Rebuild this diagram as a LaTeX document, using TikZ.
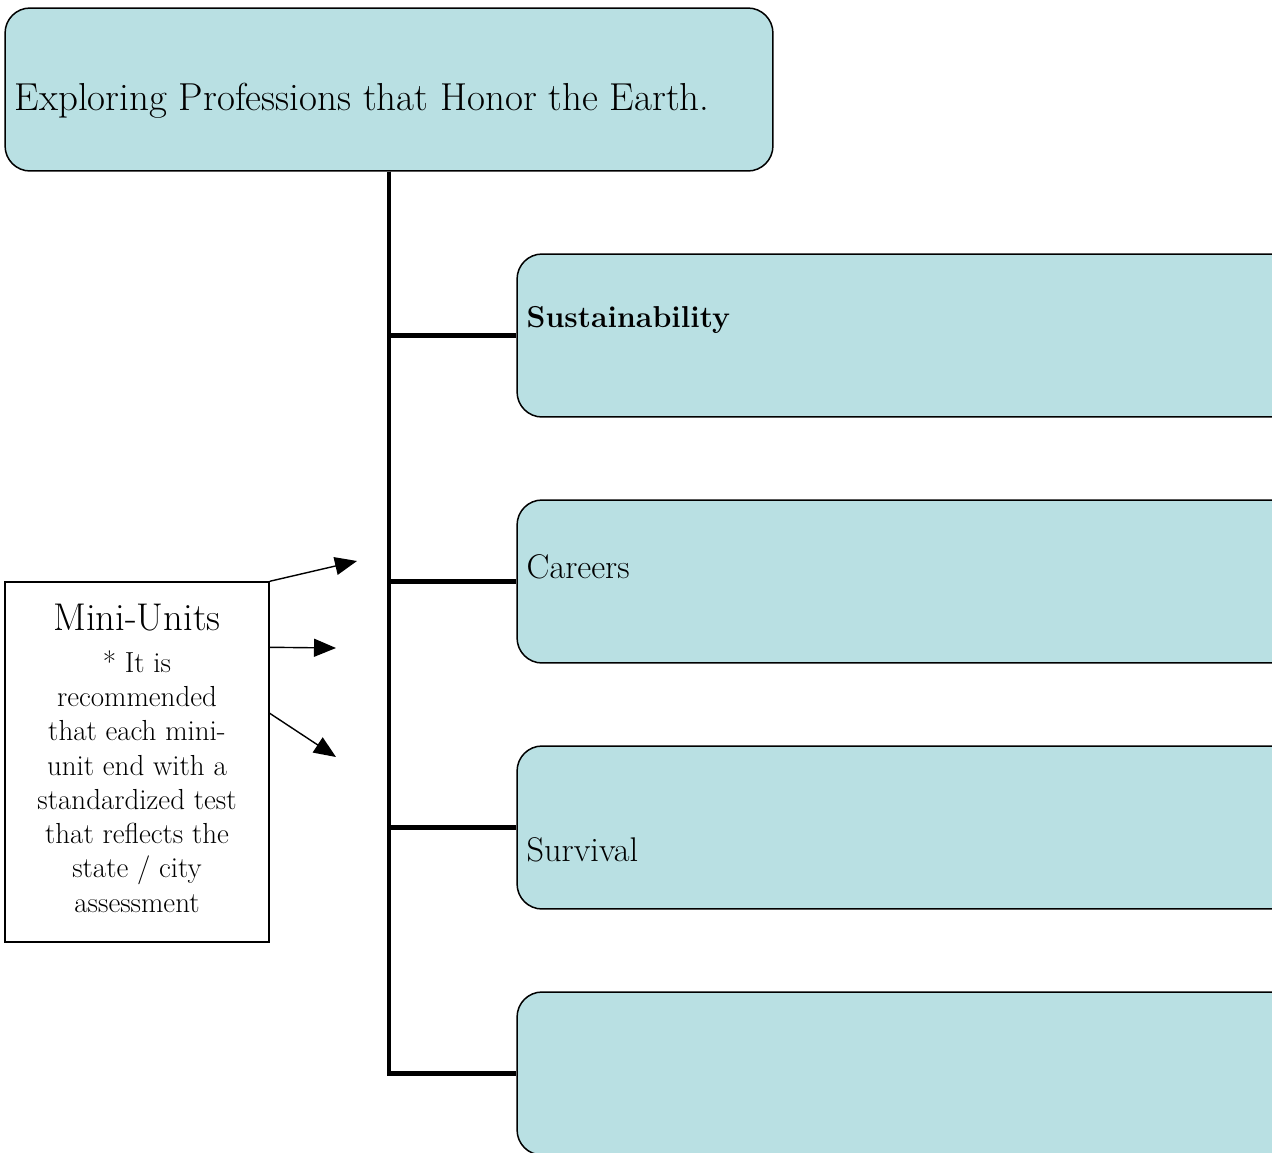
\documentclass[tikz,border=0pt]{standalone}
\usepackage{xcolor}
\usepackage{tikz}
\usetikzlibrary{positioning}
\usetikzlibrary{calc,arrows.meta}
\definecolor{boxteal}{RGB}{185,224,227}
\tikzstyle{topbox}=[rectangle,rounded corners=0.5cm,draw=black,line width=0.85pt,fill=boxteal,minimum width=15.36cm,minimum height=3.26cm,inner sep=0pt]
\tikzstyle{unitbox}=[topbox,minimum width=16cm]
\tikzstyle{notebox}=[rectangle,draw=black,line width=0.85pt,fill=white,minimum width=5.28cm,minimum height=7.2cm,inner sep=0pt]
\tikzstyle{trunk} = [draw,line width=2.3pt]
\tikzstyle{pointer} = [draw,line width=0.8pt,-{Triangle[length=0.44cm,width=0.36cm]}]
\tikzstyle{boxtext} = [anchor=west,inner sep=0pt]
\tikzset{big/.style={font=\fontsize{22.2}{26}\selectfont}}
\tikzset{mid/.style={font=\fontsize{19.5}{23}\selectfont}}
\tikzset{midbold/.style={font=\fontsize{17.2}{23}\selectfont\bfseries}}

\begin{document}
\begin{tikzpicture}[x=0.02cm,y=-0.02cm]

 \useasboundingbox (0,0) rectangle (1272,1153);
 \clip (0,0) rectangle (1272,1153);

 %Title
 \node[topbox] (title) at (389,89.5) {};
 \node[boxtext,big] (ttext) at ($(title.west)+(10,11)$) {Exploring Professions that Honor the Earth.};

 %Units
   \foreach \y/\name in {335.5/u1, 581.5/u2, 827.5/u3, 1073.5/u4}
          \node[unitbox] (\name) at (917,\y) {};

   \foreach \name in {u1,u2,u3,u4}
          \path[trunk] (title.south) |- (\name.west);

 \node[boxtext,midbold] (t1) at ($(u1.west)+(10,-16)$) {Sustainability};
 \node[boxtext,mid] (t2) at ($(u2.west)+(10,-15)$) {Careers};
 \node[boxtext,mid] (t3) at ($(u3.west)+(10,22)$) {Survival};

 %Mini-Units
 \node[notebox] (mini) at (137,762) {};
 \node[anchor=north,inner sep=0pt,align=center,font=\fontsize{16.5}{19.5}\selectfont] (minitext) at ($(mini.north)+(0,22)$)
   {{\fontsize{22}{26}\selectfont Mini-Units}\\[0.16cm] * It is\\ recommended\\ that each mini-\\ unit end with a\\ standardized test\\ that reflects the\\ state / city\\ assessment};

 \coordinate (p1) at (357,561);
 \coordinate (p2) at (336,648);
 \coordinate (p3) at (336,757);

 \path[pointer] (mini.north east) -- (p1);
 \path[pointer] ($(mini.north east)+(0,66)$) -- (p2);
 \path[pointer] ($(mini.north east)+(0,132)$) -- (p3);

\end{tikzpicture}
\end{document}
